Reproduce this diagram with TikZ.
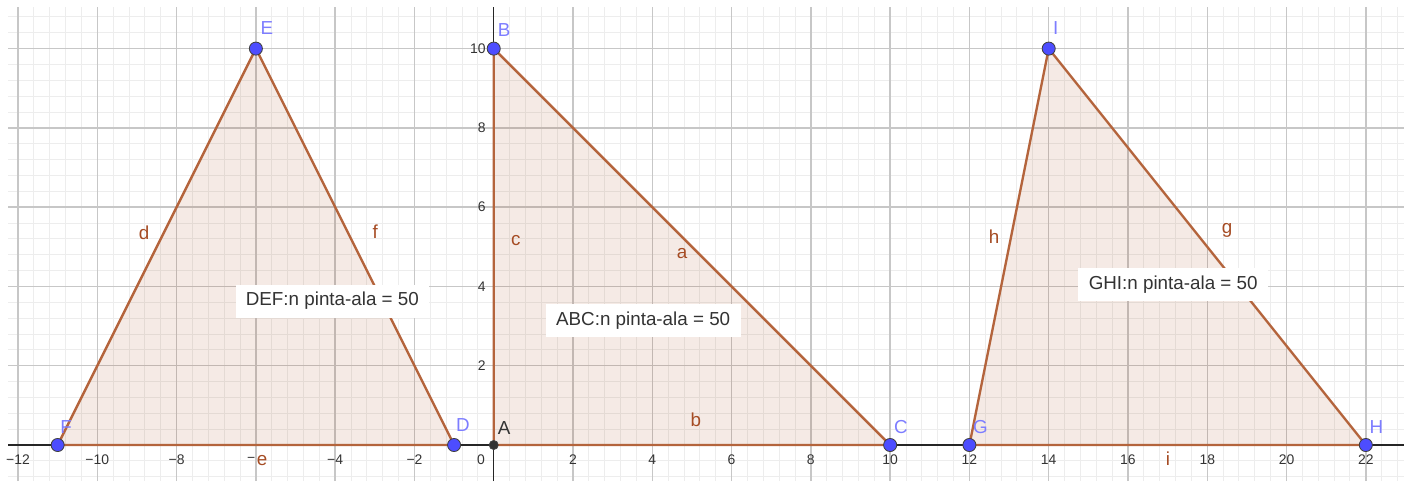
\documentclass[tikz,border=0pt]{standalone}
\usepackage{fontspec}
\setmainfont{Liberation Sans}
\usetikzlibrary{calc}
\definecolor{edgec}{RGB}{180,100,60}
\definecolor{fillc}{RGB}{153,51,0}
\definecolor{ptc}{RGB}{77,77,255}
\definecolor{ptlab}{RGB}{125,125,255}
\definecolor{seglab}{RGB}{165,75,35}
\definecolor{numc}{RGB}{51,51,51}
\begin{document}
\begin{tikzpicture}[font=\fontsize{13.5}{16}\selectfont,
  gridmin/.style={draw=black!7,line width=0.7pt}, gridmaj/.style={draw=black!22,line width=1pt},
  axis/.style={draw=black!85,line width=0.9pt},
  tri/.style={draw=edgec,line width=1.7pt,line join=round,fill=fillc,fill opacity=0.1},
  pt/.style={circle,draw=black!75,fill=ptc,line width=0.6pt,inner sep=0pt,minimum size=3.3mm},
  ptA/.style={circle,draw=black!75,fill=numc,line width=0.5pt,inner sep=0pt,minimum size=2.3mm},
  plab/.style={text=ptlab,inner sep=0pt}, slab/.style={text=seglab,inner sep=0pt},
  num/.style={text=numc,font=\fontsize{10}{12}\selectfont,inner sep=0pt},
  area/.style={fill=white,text=numc,inner xsep=2.6mm,minimum height=8.3mm}]
  \useasboundingbox (-12.455,-1.034) rectangle (23.19,11.226);
  % grid and axes
  \draw[gridmin] (-12.25,-0.908) grid[step=0.4] (22.96,11.05);
  \draw[gridmaj] (-12.25,-0.908) grid[step=2] (22.96,11.05);
  \coordinate (xl) at (-12.25,0); \coordinate (xr) at (22.96,0);
  \coordinate (yb) at (0,-0.908); \coordinate (yt) at (0,11.05);
  \draw[axis] (xl)--(xr); \draw[axis] (yb)--(yt);
  \foreach \x in {12,10,8,4,2} \node[num](xm\x) at (-\x,-0.38){−\x};
  \foreach \x in {2,4,...,22} \node[num](xp\x) at (\x,-0.38){\x};
  \node[num](xm6) at (-6.12,-0.38){−};
  \node[num](x0) at (-0.32,-0.38){0};
  \foreach \y in {2,4,...,10} \node[num,anchor=east](y\y) at (-0.2,\y){\y};
  % triangles
  \coordinate (A) at (0,0); \coordinate (B) at (0,10); \coordinate (C) at (10,0);
  \coordinate (D) at (-1,0); \coordinate (E) at (-6,10); \coordinate (F) at (-11,0);
  \coordinate (G) at (12,0); \coordinate (H) at (22,0); \coordinate (I) at (14,10);
  \filldraw[tri] (D)--(E)--(F)--cycle;
  \filldraw[tri] (A)--(B)--(C)--cycle;
  \filldraw[tri] (G)--(H)--(I)--cycle;
  % side labels
  \node[slab](ld) at (-8.82,5.35){d}; \node[slab](le) at (-5.84,-0.38){e}; \node[slab](lf) at (-2.99,5.37){f};
  \node[slab](la) at (4.75,4.82){a}; \node[slab](lb) at (5.10,0.63){b}; \node[slab](lc) at (0.56,5.17){c};
  \node[slab](lg) at (18.5,5.42){g}; \node[slab](lh) at (12.62,5.25){h}; \node[slab](li) at (17.01,-0.35){i};
  % areas
  \node[area](def) at (-4.07,3.63){DEF:n pinta-ala = 50};
  \node[area](abc) at (3.77,3.13){ABC:n pinta-ala = 50};
  \node[area](ghi) at (17.14,4.04){GHI:n pinta-ala = 50};
  % points
  \node[ptA](pA) at (A){};
  \foreach \p in {B,C,D,E,F,G,H,I} \node[pt](p\p) at (\p){};
  \node[plab](nA) at (0.26,0.43){\textcolor{numc}{A}};
  \node[plab](nB) at (0.26,10.47){B}; \node[plab](nC) at (10.27,0.45){C};
  \node[plab](nD) at (-0.78,0.50){D}; \node[plab](nE) at (-5.72,10.52){E}; \node[plab](nF) at (-10.79,0.45){F};
  \node[plab](nG) at (12.28,0.45){G}; \node[plab](nH) at (22.27,0.45){H}; \node[plab](nI) at (14.18,10.52){I};
\end{tikzpicture}
\end{document}
